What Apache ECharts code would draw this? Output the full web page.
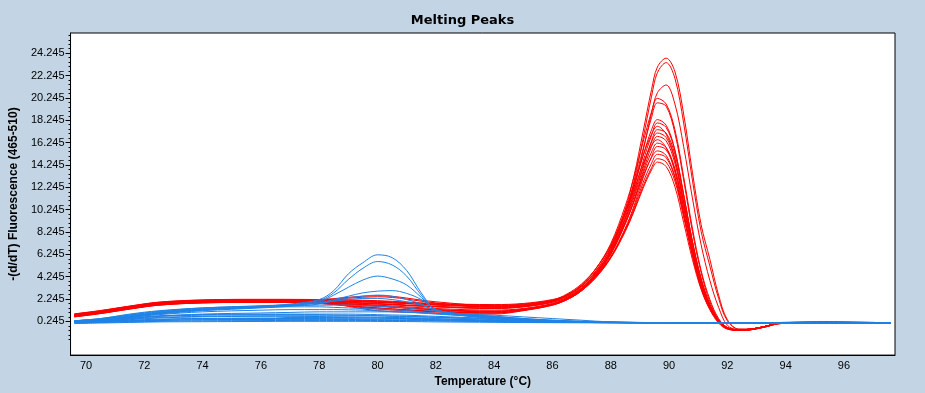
<!DOCTYPE html>
<html>
<head>
<meta charset="utf-8">
<script src="https://cdn.jsdelivr.net/npm/echarts@6/dist/echarts.min.js"></script>
<style>
html,body{margin:0;padding:0;background:#c3d5e5;}
#chart{width:925px;height:393px;}
</style>
</head>
<body>
<div id="chart"></div>
<script>
// ---- Tick labels ----
const xTicks = [70, 72, 74, 76, 78, 80, 82, 84, 86, 88, 90, 92, 94, 96];
const yTicks = [0.245, 2.245, 4.245, 6.245, 8.245, 10.245, 12.245, 14.245, 16.245, 18.245, 20.245, 22.245, 24.245];

// ---- Temperatures (°C) for the red group ----
const tempRed = [69.6, 70.5, 71.5, 72.5, 74, 76, 78, 80, 82, 84, 85, 86, 86.5, 87, 87.5, 88, 88.5, 88.8, 89.1, 89.4, 89.6, 89.9, 90.2, 90.5, 90.8, 91.1, 91.4, 91.7, 92.0, 92.4, 92.8, 93.3, 93.8, 95.5, 97.6];

// ---- Red group: -(d/dT) fluorescence ----
const red01 = [0.85,1.15,1.55,1.9,2.1,2.15,2.1,1.95,1.75,1.6,1.7,2.1, 2.6,3.4,4.8,6.9,10.3,13.3,17.1,21.0,23.0,23.8,22.6,18.8,13.6,8.9,5.8,2.6,0.4, -0.45,-0.45,-0.2,0.1,0.15,0.12];
const red02 = [0.75,1.05,1.45,1.8,2.0,2.05,2.0,1.8,1.55,1.4,1.55,1.95, 2.4,3.2,4.6,6.6,9.9,12.8,16.5,20.4,22.5,23.4,22.0,18.0,12.9,8.3,5.2,2.3,0.3, -0.45,-0.45,-0.2,0.1,0.2,0.12];
const red03 = [0.65,0.95,1.35,1.7,1.9,1.95,1.9,1.6,1.3,1.15,1.35,1.8, 2.3,3.1,4.5,6.5,9.6,12.2,15.4,18.9,20.7,21.4,19.7,15.9,11.3,7.1,3.9,1.5,-0.1, -0.5,-0.45,-0.2,0.1,0.12,0.12];
const red04 = [0.8,1.1,1.5,1.85,2.05,2.1,2.15,2.45,1.9,1.5,1.6,2.0, 2.6,3.5,5.0,7.2,10.6,13.2,16.2,19.0,20.2,19.7,17.4,13.2,8.6,4.8,2.2,0.5,-0.3, -0.5,-0.45,-0.2,0.1,0.12,0.12];
const red05 = [0.7,1.0,1.4,1.75,1.95,2.0,1.85,1.45,1.15,1.0,1.25,1.75, 2.3,3.2,4.6,6.7,10.0,12.6,15.6,18.5,19.8,19.5,17.1,12.9,8.3,4.6,2.0,0.4,-0.3, -0.55,-0.5,-0.25,0.05,0.12,0.12];
const red06 = [0.9,1.2,1.6,1.95,2.15,2.2,2.2,2.1,1.85,1.75,1.85,2.2, 2.6,3.4,4.8,6.8,9.9,12.3,15.0,17.4,18.3,17.8,15.6,11.6,7.4,4.0,1.7,0.3,-0.35, -0.5,-0.45,-0.2,0.1,0.12,0.12];
const red07 = [0.78,1.08,1.48,1.82,2.02,2.08,1.95,1.2,1.0,0.9,1.2,1.7, 2.2,3.0,4.4,6.4,9.5,11.8,14.5,16.9,18.0,17.6,15.5,11.6,7.4,4.0,1.7,0.3,-0.35, -0.55,-0.5,-0.25,0.05,0.12,0.12];
const red08 = [0.8,1.1,1.5,1.85,2.05,2.1,2.05,1.85,1.6,1.45,1.6,2.05, 2.6,3.5,5.0,7.1,10.2,12.5,15.0,17.0,17.7,17.0,14.8,10.9,6.8,3.6,1.5,0.2,-0.4, -0.55,-0.45,-0.2,0.1,0.12,0.12];
const red09 = [0.68,0.98,1.38,1.72,1.92,1.98,1.92,1.7,1.4,1.25,1.4,1.85, 2.3,3.1,4.4,6.3,9.2,11.4,13.9,16.4,17.4,17.1,15.2,11.5,7.4,4.1,1.8,0.4,-0.3, -0.5,-0.45,-0.2,0.1,0.12,0.12];
const red10 = [0.88,1.18,1.58,1.92,2.12,2.18,2.12,2.0,1.7,1.55,1.65,2.05, 2.5,3.3,4.6,6.5,9.4,11.6,14.1,16.3,17.1,16.7,14.7,11.0,7.0,3.8,1.6,0.3,-0.35, -0.5,-0.45,-0.2,0.1,0.12,0.12];
const red11 = [0.72,1.02,1.42,1.77,1.97,2.02,1.95,1.65,1.25,1.1,1.3,1.75, 2.2,3.0,4.3,6.2,9.0,11.1,13.6,15.9,16.8,16.4,14.4,10.8,6.9,3.7,1.6,0.3,-0.35, -0.55,-0.5,-0.2,0.1,0.12,0.12];
const red12 = [0.82,1.12,1.52,1.87,2.07,2.12,2.2,2.55,2.0,1.65,1.75,2.15, 2.7,3.6,5.0,7.0,9.9,12.0,14.3,16.0,16.5,15.8,13.6,10.0,6.2,3.2,1.3,0.1,-0.45, -0.55,-0.5,-0.25,0.05,0.12,0.12];
const red13 = [0.75,1.05,1.45,1.8,2.0,2.05,2.0,1.8,1.55,1.4,1.55,1.95, 2.4,3.2,4.5,6.3,9.0,11.0,13.4,15.4,16.2,15.8,13.9,10.4,6.6,3.5,1.5,0.2,-0.4, -0.5,-0.45,-0.2,0.1,0.12,0.12];
const red14 = [0.76,1.06,1.46,1.8,2.0,2.05,1.9,1.35,1.1,1.0,1.25,1.7, 2.2,3.0,4.2,6.0,8.6,10.6,13.0,15.0,15.9,15.6,13.8,10.4,6.7,3.6,1.6,0.3,-0.35, -0.5,-0.45,-0.2,0.1,0.12,0.12];
const red15 = [0.92,1.22,1.62,1.97,2.17,2.22,2.2,2.05,1.8,1.7,1.8,2.15, 2.6,3.4,4.7,6.5,9.1,11.0,13.2,14.9,15.5,15.1,13.2,9.8,6.2,3.3,1.4,0.2,-0.4, -0.55,-0.5,-0.2,0.1,0.12,0.12];
const red16 = [0.65,0.95,1.35,1.7,1.9,1.95,1.9,1.6,1.3,1.15,1.35,1.8, 2.3,3.1,4.3,6.0,8.5,10.4,12.6,14.4,15.2,14.9,13.1,9.8,6.3,3.4,1.5,0.3,-0.35, -0.5,-0.45,-0.2,0.1,0.12,0.12];
const red17 = [0.85,1.15,1.55,1.9,2.1,2.15,2.1,1.95,1.75,1.6,1.7,2.1, 2.5,3.2,4.4,6.0,8.4,10.2,12.3,14.0,14.8,14.5,12.8,9.6,6.2,3.4,1.5,0.3,-0.35, -0.5,-0.45,-0.2,0.15,0.2,0.12];
const red18 = [0.7,1.0,1.4,1.75,1.95,2.0,1.85,1.45,1.15,1.0,1.25,1.75, 2.2,3.0,4.2,5.9,8.3,10.1,12.1,13.8,14.5,14.1,12.3,9.1,5.8,3.1,1.3,0.2,-0.4, -0.55,-0.5,-0.25,0.05,0.12,0.12];

// ---- Temperatures (°C) for the blue group ----
const tempBlue = [69.6, 70.5, 71.5, 72.5, 74, 76, 77, 78, 78.5, 79, 79.5, 80, 80.5, 81, 81.5, 82, 83, 84, 85, 86, 87, 88, 90, 92, 94, 97.6];

// ---- Blue group: -(d/dT) fluorescence ----
const blue01 = [0.3,0.45,0.8,1.1,1.4,1.6,1.8,2.2,3.0,4.5,5.5,6.2,5.95,4.8,2.8,1.3,0.9,0.7,0.5,0.35,0.25,0.18,0.12,0.1,0.1,0.1];
const blue02 = [0.25,0.4,0.7,1.0,1.3,1.55,1.75,2.1,2.8,4.0,5.0,5.6,5.3,4.3,2.6,1.3,0.85,0.65,0.45,0.3,0.22,0.16,0.12,0.1,0.1,0.1];
const blue03 = [0.3,0.45,0.75,1.05,1.35,1.55,1.7,2.0,2.6,3.3,3.95,4.3,4.05,3.5,2.4,1.3,0.8,0.6,0.45,0.3,0.2,0.15,0.12,0.1,0.1,0.1];
const blue04 = [0.25,0.4,0.65,0.95,1.25,1.5,1.65,1.9,2.2,2.5,2.8,2.95,3.0,2.75,2.2,1.3,0.8,0.55,0.4,0.28,0.2,0.15,0.12,0.1,0.1,0.1];
const blue05 = [0.2,0.35,0.6,0.9,1.2,1.45,1.6,1.8,2.1,2.35,2.5,2.6,2.5,2.2,1.8,1.2,0.75,0.5,0.35,0.25,0.18,0.14,0.12,0.1,0.1,0.1];
const blue06 = [0.3,0.5,0.85,1.15,1.45,1.65,1.75,1.9,2.05,2.2,2.3,2.3,2.2,2.0,1.7,1.25,0.85,0.6,0.4,0.28,0.2,0.15,0.12,0.1,0.1,0.1];
const blue07 = [0.3,0.5,0.9,1.2,1.45,1.6,1.65,1.7,1.7,1.7,1.65,1.6,1.55,1.45,1.3,1.15,0.9,0.7,0.5,0.35,0.25,0.2,0.12,0.1,0.1,0.1];
const blue08 = [0.25,0.4,0.7,1.0,1.3,1.5,1.55,1.55,1.5,1.45,1.4,1.35,1.3,1.2,1.1,0.95,0.75,0.55,0.4,0.3,0.22,0.17,0.12,0.1,0.1,0.1];
const blue09 = [0.2,0.3,0.5,0.7,0.9,1.0,1.05,1.1,1.1,1.1,1.1,1.1,1.1,1.05,1.0,0.95,0.9,0.8,0.65,0.5,0.35,0.2,0.12,0.1,0.1,0.1];
const blue10 = [0.15,0.2,0.3,0.4,0.5,0.55,0.55,0.55,0.55,0.55,0.55,0.55,0.5,0.5,0.45,0.4,0.35,0.3,0.25,0.2,0.15,0.15,0.12,0.1,0.1,0.1];
const blue11 = [0.2,0.3,0.45,0.6,0.7,0.75,0.75,0.75,0.75,0.75,0.75,0.75,0.7,0.7,0.65,0.6,0.5,0.4,0.3,0.22,0.18,0.15,0.12,0.1,0.1,0.1];
const blue12 = [0.1,0.15,0.2,0.25,0.3,0.32,0.33,0.33,0.33,0.33,0.33,0.33,0.33,0.32,0.3,0.28,0.25,0.22,0.2,0.18,0.15,0.14,0.12,0.1,0.1,0.1];
const blue13 = [0.25,0.35,0.55,0.75,0.85,0.9,0.9,0.9,0.9,0.9,0.88,0.85,0.82,0.8,0.75,0.7,0.6,0.5,0.4,0.3,0.2,0.15,0.12,0.1,0.1,0.1];
const blue14 = [0.2,0.25,0.35,0.45,0.5,0.5,0.5,0.5,0.48,0.48,0.46,0.45,0.45,0.43,0.4,0.38,0.33,0.28,0.22,0.18,0.15,0.14,0.12,0.1,0.1,0.1];
const blue15 = [0.2,0.35,0.6,0.85,1.1,1.25,1.3,1.3,1.3,1.28,1.25,1.2,1.15,1.1,1.0,0.9,0.75,0.6,0.45,0.3,0.2,0.15,0.12,0.1,0.1,0.1];
const blue16 = [0.15,0.25,0.4,0.55,0.65,0.7,0.7,0.68,0.66,0.65,0.64,0.62,0.6,0.58,0.55,0.5,0.42,0.35,0.28,0.22,0.17,0.14,0.12,0.1,0.1,0.1];
const blue17 = [0.18,0.22,0.28,0.35,0.4,0.42,0.42,0.42,0.42,0.42,0.4,0.4,0.38,0.36,0.34,0.32,0.28,0.24,0.2,0.17,0.15,0.13,0.12,0.1,0.1,0.1];
const blue18 = [0.2,0.3,0.5,0.7,0.8,0.85,0.85,0.85,0.82,0.8,0.78,0.75,0.72,0.7,0.66,0.62,0.55,0.45,0.35,0.27,0.2,0.15,0.12,0.1,0.1,0.1];
const blue19 = [0.05,0.1,0.15,0.2,0.22,0.24,0.25,0.25,0.25,0.25,0.25,0.24,0.24,0.23,0.22,0.2,0.18,0.16,0.14,0.13,0.12,0.11,0.1,0.1,0.1,0.1];
const blue20 = [0.12,0.18,0.25,0.32,0.38,0.4,0.6,0.6,0.6,0.58,0.56,0.55,0.54,0.52,0.5,0.46,0.4,0.32,0.26,0.2,0.16,0.13,0.11,0.1,0.1,0.1];

const redCurves = [red01,red02,red03,red04,red05,red06,red07,red08,red09,red10,red11,red12,red13,red14,red15,red16,red17,red18];
const blueCurves = [blue01,blue02,blue03,blue04,blue05,blue06,blue07,blue08,blue09,blue10,blue11,blue12,blue13,blue14,blue15,blue16,blue17,blue18,blue19,blue20];

const RED = '#ff0000';
const BLUE = '#1e82e6';

// minor tick positions: 5 subdivisions between labelled ticks
const yMinor = [];
for (let i = -1; i < yTicks.length; i++) {
  const base = i < 0 ? yTicks[0] - 2 : yTicks[i];
  for (let k = 1; k < 5; k++) yMinor.push(+(base + k * 0.4).toFixed(3));
}

function mk(temps, vals, color) {
  return {
    type: 'line',
    data: temps.map((t, i) => [t, vals[i]]),
    showSymbol: false,
    smooth: 0.35,
    lineStyle: { color: color, width: 1 },
    itemStyle: { color: color },
    silent: true,
    animation: false
  };
}

const series = [];
redCurves.forEach(c => series.push(mk(tempRed, c, RED)));
blueCurves.forEach(c => series.push(mk(tempBlue, c, BLUE)));

const FONT = 'Liberation Sans, Arial, sans-serif';
const XMIN = 69.47, XMAX = 97.75, YMIN = -2.77, YMAX = 26.05;

const chart = echarts.init(document.getElementById('chart'), null, { renderer: 'canvas' });
chart.setOption({
  backgroundColor: '#c3d5e5',
  animation: false,
  title: {
    text: 'Melting Peaks',
    left: 'center',
    top: 9,
    textStyle: { fontFamily: 'DejaVu Sans, sans-serif', fontSize: 13, fontWeight: 'bold', color: '#000' }
  },
  grid: {
    left: 63, right: 30, top: 33, bottom: 35,
    show: true, backgroundColor: '#ffffff', borderColor: '#000', borderWidth: 1
  },
  xAxis: {
    type: 'value', min: XMIN, max: XMAX,
    name: 'Temperature (°C)', nameLocation: 'middle', nameGap: 19,
    nameTextStyle: { fontFamily: FONT, fontSize: 12, fontWeight: 'bold', color: '#000' },
    axisLine: { show: true, onZero: false, lineStyle: { color: '#000', width: 1 } },
    axisTick: { show: false },
    axisLabel: { customValues: xTicks, fontFamily: FONT, fontSize: 11, color: '#000', margin: 5 },
    splitLine: { show: false }
  },
  yAxis: [{
    type: 'value', min: YMIN, max: YMAX,
    name: '-(d/dT) Fluorescence (465-510)', nameLocation: 'middle', nameGap: 42,
    nameTextStyle: { fontFamily: FONT, fontSize: 12, fontWeight: 'bold', color: '#000' },
    axisLine: { show: true, onZero: false, lineStyle: { color: '#000', width: 1 } },
    axisTick: { show: true, customValues: yTicks, length: 5, lineStyle: { color: '#000' } },
    axisLabel: { customValues: yTicks, formatter: v => v.toFixed(3), fontFamily: FONT, fontSize: 11, color: '#000', margin: 6 },
    splitLine: { show: false }
  }, {
    type: 'value', min: YMIN, max: YMAX, position: 'left',
    axisLine: { show: false, onZero: false },
    axisTick: { show: true, customValues: yMinor, length: 2, lineStyle: { color: '#000' } },
    axisLabel: { show: false },
    splitLine: { show: false }
  }],
  series: series
});
</script>
</body>
</html>
